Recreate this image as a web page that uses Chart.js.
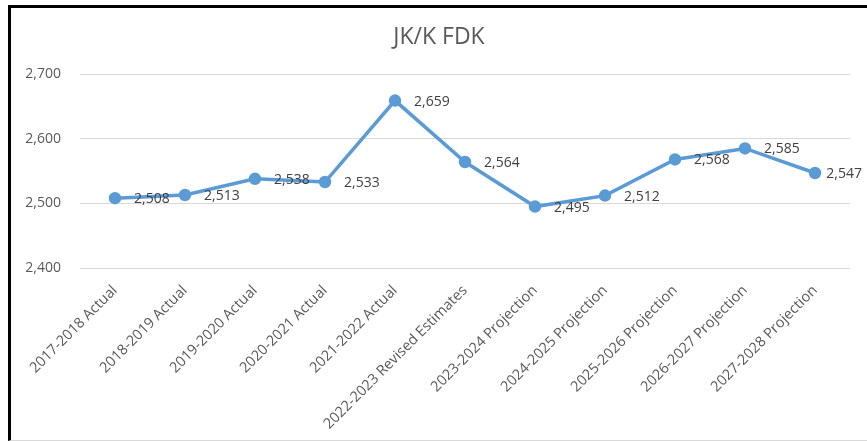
<!DOCTYPE html>
<html>
<head>
<meta charset="utf-8">
<script src="https://cdn.jsdelivr.net/npm/chart.js@4.4.0/dist/chart.umd.min.js"></script>
<style>
    html, body { margin: 0; padding: 0; background: #fff; }
    #frame {
        position: absolute;
        left: 8px;
        top: 5px;
        width: 856px;
        height: 432px;
        border-left: 3px solid #000;
        border-top: 3px solid #000;
        border-bottom: 1px solid #d9d9d9;
    }
    #fdk-chart { display: block; }
</style>
</head>
<body>
<div id="frame">
    <canvas id="fdk-chart" width="856" height="432"></canvas>
</div>
<script>
var chart_title = 'JK/K FDK';

var category_labels = [
    '2017-2018 Actual',
    '2018-2019 Actual',
    '2019-2020 Actual',
    '2020-2021 Actual',
    '2021-2022 Actual',
    '2022-2023 Revised Estimates',
    '2023-2024 Projection',
    '2024-2025 Projection',
    '2025-2026 Projection',
    '2026-2027 Projection',
    '2027-2028 Projection'
];

var fdk_values = [2508, 2513, 2538, 2533, 2659, 2564, 2495, 2512, 2568, 2585, 2547];

var y_ticks = [2400, 2500, 2600, 2700];

var FONT = '"Open Sans", "Liberation Sans", sans-serif';

function formatNumber(v) {
    return Number(v).toLocaleString('en-US');
}

// draws the value to the right of each point, like the excel "right" label position
var pointValueLabels = {
    id: 'pointValueLabels',
    afterDatasetsDraw: function (chart) {
        var ctx = chart.ctx;
        var meta = chart.getDatasetMeta(0);
        ctx.save();
        ctx.font = '14px ' + FONT;
        ctx.fillStyle = '#404040';
        ctx.textAlign = 'left';
        ctx.textBaseline = 'middle';
        meta.data.forEach(function (pt, i) {
            var text = formatNumber(chart.data.datasets[0].data[i]);
            var x = pt.x + 19;
            var w = ctx.measureText(text).width;
            // keep the label inside the chart, excel pulls it back the same way
            if (x + w > chart.width - 5) {
                x = chart.width - 5 - w;
            }
            ctx.fillText(text, x, pt.y + 1);
        });
        ctx.restore();
    }
};

var FdkChart = new Chart(document.getElementById('fdk-chart'), {
    type: 'line',
    data: {
        labels: category_labels,
        datasets: [{
            label: chart_title,
            data: fdk_values,
            borderColor: '#5b9bd5',
            backgroundColor: '#5b9bd5',
            borderWidth: 3.5,
            pointRadius: 4.5,
            pointHoverRadius: 4.5,
            pointBackgroundColor: '#5b9bd5',
            pointBorderColor: '#5b9bd5',
            tension: 0
        }]
    },
    plugins: [pointValueLabels],
    options: {
        responsive: false,
        animation: false,
        layout: {
            padding: 0
        },
        plugins: {
            legend: { display: false },
            tooltip: { enabled: false },
            title: {
                display: true,
                text: chart_title,
                color: '#595959',
                font: { family: FONT, size: 23, weight: 'normal' },
                padding: { top: 16, bottom: 22.5 }
            }
        },
        scales: {
            x: {
                offset: true,
                grid: { display: false },
                border: { display: false },
                ticks: {
                    color: '#595959',
                    font: { family: FONT, size: 14.5 },
                    minRotation: 45,
                    maxRotation: 45,
                    autoSkip: false,
                    padding: 6
                },
                afterFit: function (scale) {
                    scale.height = 172;
                }
            },
            y: {
                min: y_ticks[0],
                max: y_ticks[y_ticks.length - 1],
                grid: { color: '#d9d9d9', lineWidth: 1, drawTicks: false },
                border: { display: false },
                ticks: {
                    stepSize: 100,
                    color: '#595959',
                    font: { family: FONT, size: 14 },
                    padding: 19,
                    callback: function (value) {
                        return formatNumber(value);
                    }
                },
                afterBuildTicks: function (scale) {
                    scale.ticks = y_ticks.map(function (v) { return { value: v }; });
                },
                afterFit: function (scale) {
                    scale.width = 69;
                }
            },
            // empty right-hand axis, only there to keep the right margin
            // without pulling the title off centre
            spacer: {
                type: 'linear',
                position: 'right',
                min: y_ticks[0],
                max: y_ticks[y_ticks.length - 1],
                grid: { display: false },
                border: { display: false },
                ticks: { display: false },
                afterFit: function (scale) {
                    scale.width = 17;
                }
            }
        }
    }
});
</script>
</body>
</html>
